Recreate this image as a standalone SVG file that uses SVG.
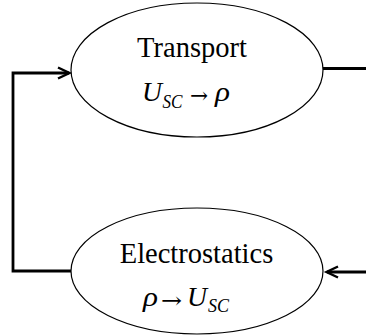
<svg xmlns="http://www.w3.org/2000/svg" width="366" height="336" viewBox="0 0 366 336">
<style>
.node{fill:#fff;stroke:#000;stroke-width:1.2}
.lbl{font-family:"Liberation Serif","Times New Roman",serif;font-size:28.5px;fill:#000}
.m{font-family:"Liberation Serif","Times New Roman",serif;font-style:italic;font-size:28px;fill:#000}
.sub{font-family:"Liberation Serif","Times New Roman",serif;font-style:italic;font-size:19px;fill:#000}
.ar{font-family:"DejaVu Serif",serif;font-size:22px;fill:#000}
.conn{fill:none;stroke:#000;stroke-width:2.8}
.head{fill:none;stroke:#000;stroke-width:2.4}
</style>
<rect width="366" height="336" fill="#fff"/>
<g id="connectors">
<polyline class="conn" points="71,271 13,271 13,73 69,73"/>
<polyline class="head" points="58,67.5 69.5,73 58,78.5"/>
<line class="conn" x1="323" y1="68.5" x2="366" y2="68.5"/>
<line class="conn" x1="366" y1="272" x2="327" y2="272"/>
<polyline class="head" points="338,266.5 326.5,272 338,277.5"/>
</g>
<g id="transport">
<ellipse class="node" cx="197" cy="70" rx="126" ry="67"/>
<text class="lbl" x="192" y="57" text-anchor="middle">Transport</text>
<text class="m" x="142" y="101" textLength="20" lengthAdjust="spacingAndGlyphs">U</text>
<text class="sub" x="162.5" y="108" textLength="20" lengthAdjust="spacingAndGlyphs">SC</text>
<text class="ar" x="190" y="103" textLength="18" lengthAdjust="spacingAndGlyphs">→</text>
<text class="m" x="215" y="101" textLength="15" lengthAdjust="spacingAndGlyphs">ρ</text>
</g>
<g id="electrostatics">
<ellipse class="node" cx="197" cy="271" rx="126" ry="63"/>
<text class="lbl" x="196.5" y="263" text-anchor="middle">Electrostatics</text>
<text class="m" x="143" y="306" textLength="15" lengthAdjust="spacingAndGlyphs">ρ</text>
<text class="ar" x="161" y="308" textLength="21" lengthAdjust="spacingAndGlyphs">→</text>
<text class="m" x="187" y="306" textLength="20" lengthAdjust="spacingAndGlyphs">U</text>
<text class="sub" x="208" y="312" textLength="21" lengthAdjust="spacingAndGlyphs">SC</text>
</g>
</svg>
